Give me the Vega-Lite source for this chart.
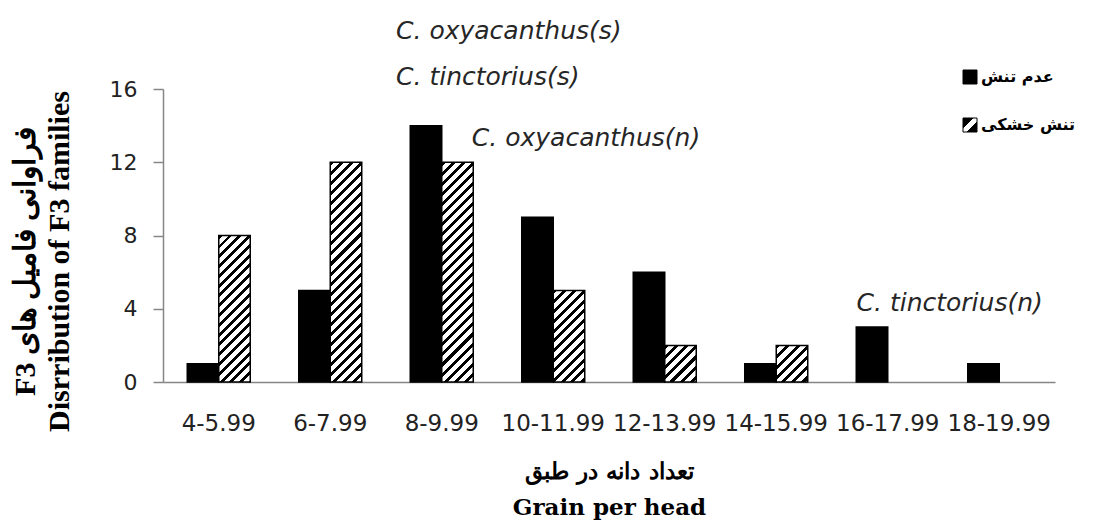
{
  "$schema": "https://vega.github.io/schema/vega-lite/v6.json",
  "width": 892,
  "height": 293,
  "autosize": {"type": "none"},
  "padding": {"left": 163, "top": 89, "right": 39, "bottom": 142},
  "background": "white",
  "config": {"view": {"stroke": null}},
  "resolve": {"scale": {"x": "independent"}},
  "layer": [
    {
      "data": {"values": [
        {"range": "4-5.99", "stress": "عدم تنش", "count": 1},
        {"range": "4-5.99", "stress": "تنش خشکی", "count": 8},
        {"range": "6-7.99", "stress": "عدم تنش", "count": 5},
        {"range": "6-7.99", "stress": "تنش خشکی", "count": 12},
        {"range": "8-9.99", "stress": "عدم تنش", "count": 14},
        {"range": "8-9.99", "stress": "تنش خشکی", "count": 12},
        {"range": "10-11.99", "stress": "عدم تنش", "count": 9},
        {"range": "10-11.99", "stress": "تنش خشکی", "count": 5},
        {"range": "12-13.99", "stress": "عدم تنش", "count": 6},
        {"range": "12-13.99", "stress": "تنش خشکی", "count": 2},
        {"range": "14-15.99", "stress": "عدم تنش", "count": 1},
        {"range": "14-15.99", "stress": "تنش خشکی", "count": 2},
        {"range": "16-17.99", "stress": "عدم تنش", "count": 3},
        {"range": "18-19.99", "stress": "عدم تنش", "count": 1}
      ]},
      "mark": {"type": "bar", "strokeWidth": 1.5},
      "encoding": {
        "x": {
          "field": "range", "type": "nominal",
          "sort": ["4-5.99", "6-7.99", "8-9.99", "10-11.99", "12-13.99", "14-15.99", "16-17.99", "18-19.99"],
          "scale": {"paddingInner": 0.435, "paddingOuter": 0.2175},
          "axis": {
            "labelAngle": 0, "ticks": false, "tickSize": 0, "labelOverlap": false,
            "domainColor": "#868686", "domainWidth": 1.5,
            "labelFont": "DejaVu Sans", "labelFontSize": 23, "labelColor": "#222", "labelPadding": 30,
            "title": ["تعداد دانه در طبق", "Grain per head"],
            "titleFont": "DejaVu Serif", "titleFontSize": 23, "titleFontWeight": "bold", "titleColor": "#000",
            "titleLineHeight": 36, "titleBaseline": "top", "titleAlign": "center", "titleX": 446, "titleY": 78
          }
        },
        "xOffset": {
          "field": "stress", "type": "nominal", "sort": ["عدم تنش", "تنش خشکی"],
          "scale": {"paddingInner": 0, "paddingOuter": 0}
        },
        "y": {
          "field": "count", "type": "quantitative",
          "scale": {"domain": [0, 16], "nice": false},
          "axis": {
            "values": [0, 2, 4, 6, 8, 10, 12, 14, 16], "grid": false, "labelOverlap": false,
            "domainColor": "#868686", "domainWidth": 1.5, "tickColor": "#868686", "tickSize": 10, "tickWidth": 1.5,
            "labelFont": "DejaVu Sans", "labelFontSize": 22, "labelColor": "#222", "labelPadding": 16,
            "title": ["F3 فراوانی فامیل های", "Disrribution of F3 families"],
            "titleFont": "Liberation Serif", "titleFontSize": 30, "titleFontWeight": "bold", "titleColor": "#000",
            "titleLineHeight": 34, "titleAngle": 270, "titleBaseline": "top", "titleAlign": "center",
            "titleX": -153, "titleY": 172
          }
        },
        "stroke": {
          "field": "stress", "type": "nominal",
          "scale": {"domain": ["عدم تنش", "تنش خشکی"], "range": ["#000", "#000"]},
          "legend": {
            "values": ["تنش خشکی"],
            "title": null, "orient": "none", "legendX": 799, "legendY": 28, "direction": "vertical",
            "symbolType": "square", "symbolSize": 196, "symbolStrokeWidth": 1,
            "labelFont": "DejaVu Sans", "labelFontSize": 16, "labelFontWeight": "bold", "labelColor": "#000",
            "labelOffset": 3, "padding": 0
          }
        },
        "fill": {
          "field": "stress", "type": "nominal",
          "sort": ["عدم تنش", "تنش خشکی"],
          "scale": {"range": ["#000", "#fff"]},
          "legend": {
            "values": ["عدم تنش"],
            "title": null, "orient": "none", "legendX": 799, "legendY": -20, "direction": "vertical",
            "symbolType": "square", "symbolSize": 196, "symbolStrokeColor": "#000", "symbolStrokeWidth": 1,
            "labelFont": "DejaVu Sans", "labelFontSize": 16, "labelFontWeight": "bold", "labelColor": "#000",
            "labelOffset": 3, "padding": 0
          },
          "condition": [
            {"test": "datum.count === -1", "value": {"gradient": "linear", "x1": 0, "y1": 0, "x2": 1, "y2": 1, "stops": [
              {"offset": 0, "color": "#000"}, {"offset": 0.36, "color": "#000"}, {"offset": 0.36, "color": "#fff"},
              {"offset": 0.64, "color": "#fff"}, {"offset": 0.64, "color": "#000"}, {"offset": 1, "color": "#000"}]}},
            {"test": "datum.stress === 'تنش خشکی' && datum.count === 12", "value": {"gradient": "linear", "x1": 0, "y1": 0, "x2": 0.1606, "y2": 1.1203, "stops": [
              {"offset": 0, "color": "#000"}, {"offset": 0.016, "color": "#000"}, {"offset": 0.016, "color": "#fff"}, {"offset": 0.04, "color": "#fff"},
              {"offset": 0.04, "color": "#000"}, {"offset": 0.056, "color": "#000"}, {"offset": 0.056, "color": "#fff"}, {"offset": 0.08, "color": "#fff"},
              {"offset": 0.08, "color": "#000"}, {"offset": 0.096, "color": "#000"}, {"offset": 0.096, "color": "#fff"}, {"offset": 0.12, "color": "#fff"},
              {"offset": 0.12, "color": "#000"}, {"offset": 0.136, "color": "#000"}, {"offset": 0.136, "color": "#fff"}, {"offset": 0.16, "color": "#fff"},
              {"offset": 0.16, "color": "#000"}, {"offset": 0.176, "color": "#000"}, {"offset": 0.176, "color": "#fff"}, {"offset": 0.2, "color": "#fff"},
              {"offset": 0.2, "color": "#000"}, {"offset": 0.216, "color": "#000"}, {"offset": 0.216, "color": "#fff"}, {"offset": 0.24, "color": "#fff"},
              {"offset": 0.24, "color": "#000"}, {"offset": 0.256, "color": "#000"}, {"offset": 0.256, "color": "#fff"}, {"offset": 0.28, "color": "#fff"},
              {"offset": 0.28, "color": "#000"}, {"offset": 0.296, "color": "#000"}, {"offset": 0.296, "color": "#fff"}, {"offset": 0.32, "color": "#fff"},
              {"offset": 0.32, "color": "#000"}, {"offset": 0.336, "color": "#000"}, {"offset": 0.336, "color": "#fff"}, {"offset": 0.36, "color": "#fff"},
              {"offset": 0.36, "color": "#000"}, {"offset": 0.376, "color": "#000"}, {"offset": 0.376, "color": "#fff"}, {"offset": 0.4, "color": "#fff"},
              {"offset": 0.4, "color": "#000"}, {"offset": 0.416, "color": "#000"}, {"offset": 0.416, "color": "#fff"}, {"offset": 0.44, "color": "#fff"},
              {"offset": 0.44, "color": "#000"}, {"offset": 0.456, "color": "#000"}, {"offset": 0.456, "color": "#fff"}, {"offset": 0.48, "color": "#fff"},
              {"offset": 0.48, "color": "#000"}, {"offset": 0.496, "color": "#000"}, {"offset": 0.496, "color": "#fff"}, {"offset": 0.52, "color": "#fff"},
              {"offset": 0.52, "color": "#000"}, {"offset": 0.536, "color": "#000"}, {"offset": 0.536, "color": "#fff"}, {"offset": 0.56, "color": "#fff"},
              {"offset": 0.56, "color": "#000"}, {"offset": 0.576, "color": "#000"}, {"offset": 0.576, "color": "#fff"}, {"offset": 0.6, "color": "#fff"},
              {"offset": 0.6, "color": "#000"}, {"offset": 0.616, "color": "#000"}, {"offset": 0.616, "color": "#fff"}, {"offset": 0.64, "color": "#fff"},
              {"offset": 0.64, "color": "#000"}, {"offset": 0.656, "color": "#000"}, {"offset": 0.656, "color": "#fff"}, {"offset": 0.68, "color": "#fff"},
              {"offset": 0.68, "color": "#000"}, {"offset": 0.696, "color": "#000"}, {"offset": 0.696, "color": "#fff"}, {"offset": 0.72, "color": "#fff"},
              {"offset": 0.72, "color": "#000"}, {"offset": 0.736, "color": "#000"}, {"offset": 0.736, "color": "#fff"}, {"offset": 0.76, "color": "#fff"},
              {"offset": 0.76, "color": "#000"}, {"offset": 0.776, "color": "#000"}, {"offset": 0.776, "color": "#fff"}, {"offset": 0.8, "color": "#fff"},
              {"offset": 0.8, "color": "#000"}, {"offset": 0.816, "color": "#000"}, {"offset": 0.816, "color": "#fff"}, {"offset": 0.84, "color": "#fff"},
              {"offset": 0.84, "color": "#000"}, {"offset": 0.856, "color": "#000"}, {"offset": 0.856, "color": "#fff"}, {"offset": 0.88, "color": "#fff"},
              {"offset": 0.88, "color": "#000"}, {"offset": 0.896, "color": "#000"}, {"offset": 0.896, "color": "#fff"}, {"offset": 0.92, "color": "#fff"},
              {"offset": 0.92, "color": "#000"}, {"offset": 0.936, "color": "#000"}, {"offset": 0.936, "color": "#fff"}, {"offset": 0.96, "color": "#fff"},
              {"offset": 0.96, "color": "#000"}, {"offset": 0.976, "color": "#000"}, {"offset": 0.976, "color": "#fff"}, {"offset": 1, "color": "#fff"}
            ]}},
            {"test": "datum.stress === 'تنش خشکی' && datum.count === 8", "value": {"gradient": "linear", "x1": 0, "y1": 0, "x2": 0.2497, "y2": 1.1613, "stops": [
              {"offset": 0, "color": "#000"}, {"offset": 0.022, "color": "#000"}, {"offset": 0.022, "color": "#fff"}, {"offset": 0.055, "color": "#fff"},
              {"offset": 0.055, "color": "#000"}, {"offset": 0.077, "color": "#000"}, {"offset": 0.077, "color": "#fff"}, {"offset": 0.11, "color": "#fff"},
              {"offset": 0.11, "color": "#000"}, {"offset": 0.132, "color": "#000"}, {"offset": 0.132, "color": "#fff"}, {"offset": 0.165, "color": "#fff"},
              {"offset": 0.165, "color": "#000"}, {"offset": 0.187, "color": "#000"}, {"offset": 0.187, "color": "#fff"}, {"offset": 0.22, "color": "#fff"},
              {"offset": 0.22, "color": "#000"}, {"offset": 0.242, "color": "#000"}, {"offset": 0.242, "color": "#fff"}, {"offset": 0.275, "color": "#fff"},
              {"offset": 0.275, "color": "#000"}, {"offset": 0.297, "color": "#000"}, {"offset": 0.297, "color": "#fff"}, {"offset": 0.33, "color": "#fff"},
              {"offset": 0.33, "color": "#000"}, {"offset": 0.352, "color": "#000"}, {"offset": 0.352, "color": "#fff"}, {"offset": 0.385, "color": "#fff"},
              {"offset": 0.385, "color": "#000"}, {"offset": 0.407, "color": "#000"}, {"offset": 0.407, "color": "#fff"}, {"offset": 0.44, "color": "#fff"},
              {"offset": 0.44, "color": "#000"}, {"offset": 0.462, "color": "#000"}, {"offset": 0.462, "color": "#fff"}, {"offset": 0.495, "color": "#fff"},
              {"offset": 0.495, "color": "#000"}, {"offset": 0.517, "color": "#000"}, {"offset": 0.517, "color": "#fff"}, {"offset": 0.55, "color": "#fff"},
              {"offset": 0.55, "color": "#000"}, {"offset": 0.572, "color": "#000"}, {"offset": 0.572, "color": "#fff"}, {"offset": 0.605, "color": "#fff"},
              {"offset": 0.605, "color": "#000"}, {"offset": 0.627, "color": "#000"}, {"offset": 0.627, "color": "#fff"}, {"offset": 0.66, "color": "#fff"},
              {"offset": 0.66, "color": "#000"}, {"offset": 0.682, "color": "#000"}, {"offset": 0.682, "color": "#fff"}, {"offset": 0.715, "color": "#fff"},
              {"offset": 0.715, "color": "#000"}, {"offset": 0.737, "color": "#000"}, {"offset": 0.737, "color": "#fff"}, {"offset": 0.77, "color": "#fff"},
              {"offset": 0.77, "color": "#000"}, {"offset": 0.792, "color": "#000"}, {"offset": 0.792, "color": "#fff"}, {"offset": 0.825, "color": "#fff"},
              {"offset": 0.825, "color": "#000"}, {"offset": 0.847, "color": "#000"}, {"offset": 0.847, "color": "#fff"}, {"offset": 0.88, "color": "#fff"},
              {"offset": 0.88, "color": "#000"}, {"offset": 0.902, "color": "#000"}, {"offset": 0.902, "color": "#fff"}, {"offset": 0.935, "color": "#fff"},
              {"offset": 0.935, "color": "#000"}, {"offset": 0.957, "color": "#000"}, {"offset": 0.957, "color": "#fff"}, {"offset": 0.99, "color": "#fff"},
              {"offset": 0.99, "color": "#000"}, {"offset": 1, "color": "#000"}
            ]}},
            {"test": "datum.stress === 'تنش خشکی' && datum.count === 5", "value": {"gradient": "linear", "x1": 0, "y1": 0, "x2": 0.4135, "y2": 1.2018, "stops": [
              {"offset": 0, "color": "#000"}, {"offset": 0.032, "color": "#000"}, {"offset": 0.032, "color": "#fff"}, {"offset": 0.08, "color": "#fff"},
              {"offset": 0.08, "color": "#000"}, {"offset": 0.112, "color": "#000"}, {"offset": 0.112, "color": "#fff"}, {"offset": 0.16, "color": "#fff"},
              {"offset": 0.16, "color": "#000"}, {"offset": 0.192, "color": "#000"}, {"offset": 0.192, "color": "#fff"}, {"offset": 0.24, "color": "#fff"},
              {"offset": 0.24, "color": "#000"}, {"offset": 0.272, "color": "#000"}, {"offset": 0.272, "color": "#fff"}, {"offset": 0.32, "color": "#fff"},
              {"offset": 0.32, "color": "#000"}, {"offset": 0.352, "color": "#000"}, {"offset": 0.352, "color": "#fff"}, {"offset": 0.4, "color": "#fff"},
              {"offset": 0.4, "color": "#000"}, {"offset": 0.432, "color": "#000"}, {"offset": 0.432, "color": "#fff"}, {"offset": 0.48, "color": "#fff"},
              {"offset": 0.48, "color": "#000"}, {"offset": 0.512, "color": "#000"}, {"offset": 0.512, "color": "#fff"}, {"offset": 0.56, "color": "#fff"},
              {"offset": 0.56, "color": "#000"}, {"offset": 0.592, "color": "#000"}, {"offset": 0.592, "color": "#fff"}, {"offset": 0.64, "color": "#fff"},
              {"offset": 0.64, "color": "#000"}, {"offset": 0.672, "color": "#000"}, {"offset": 0.672, "color": "#fff"}, {"offset": 0.72, "color": "#fff"},
              {"offset": 0.72, "color": "#000"}, {"offset": 0.752, "color": "#000"}, {"offset": 0.752, "color": "#fff"}, {"offset": 0.8, "color": "#fff"},
              {"offset": 0.8, "color": "#000"}, {"offset": 0.832, "color": "#000"}, {"offset": 0.832, "color": "#fff"}, {"offset": 0.88, "color": "#fff"},
              {"offset": 0.88, "color": "#000"}, {"offset": 0.912, "color": "#000"}, {"offset": 0.912, "color": "#fff"}, {"offset": 0.96, "color": "#fff"},
              {"offset": 0.96, "color": "#000"}, {"offset": 0.992, "color": "#000"}, {"offset": 0.992, "color": "#fff"}, {"offset": 1, "color": "#fff"}
            ]}},
            {"test": "datum.stress === 'تنش خشکی' && datum.count === 2", "value": {"gradient": "linear", "x1": 0, "y1": 0, "x2": 0.9196, "y2": 1.0691, "stops": [
              {"offset": 0, "color": "#000"}, {"offset": 0.06, "color": "#000"}, {"offset": 0.06, "color": "#fff"}, {"offset": 0.15, "color": "#fff"},
              {"offset": 0.15, "color": "#000"}, {"offset": 0.21, "color": "#000"}, {"offset": 0.21, "color": "#fff"}, {"offset": 0.3, "color": "#fff"},
              {"offset": 0.3, "color": "#000"}, {"offset": 0.36, "color": "#000"}, {"offset": 0.36, "color": "#fff"}, {"offset": 0.45, "color": "#fff"},
              {"offset": 0.45, "color": "#000"}, {"offset": 0.51, "color": "#000"}, {"offset": 0.51, "color": "#fff"}, {"offset": 0.6, "color": "#fff"},
              {"offset": 0.6, "color": "#000"}, {"offset": 0.66, "color": "#000"}, {"offset": 0.66, "color": "#fff"}, {"offset": 0.75, "color": "#fff"},
              {"offset": 0.75, "color": "#000"}, {"offset": 0.81, "color": "#000"}, {"offset": 0.81, "color": "#fff"}, {"offset": 0.9, "color": "#fff"},
              {"offset": 0.9, "color": "#000"}, {"offset": 0.96, "color": "#000"}, {"offset": 0.96, "color": "#fff"}, {"offset": 1, "color": "#fff"}
            ]}}
          ]
        }
      }
    },
    {
      "data": {"values": [
        {"label": "C. oxyacanthus(s)", "px": 2.09, "py": 19.15},
        {"label": "C. tinctorius(s)", "px": 2.09, "py": 16.65},
        {"label": "C. oxyacanthus(n)", "px": 2.77, "py": 13.3},
        {"label": "C. tinctorius(n)", "px": 6.22, "py": 4.3}
      ]},
      "mark": {"type": "text", "align": "left", "baseline": "middle", "font": "DejaVu Sans", "fontStyle": "italic", "fontSize": 25, "fill": "#262626", "clip": false},
      "encoding": {
        "x": {"field": "px", "type": "quantitative", "scale": {"domain": [0, 8], "nice": false, "zero": false}, "axis": null},
        "y": {"field": "py", "type": "quantitative", "scale": {"domain": [0, 16], "nice": false}},
        "text": {"field": "label"}
      }
    }
  ]
}
